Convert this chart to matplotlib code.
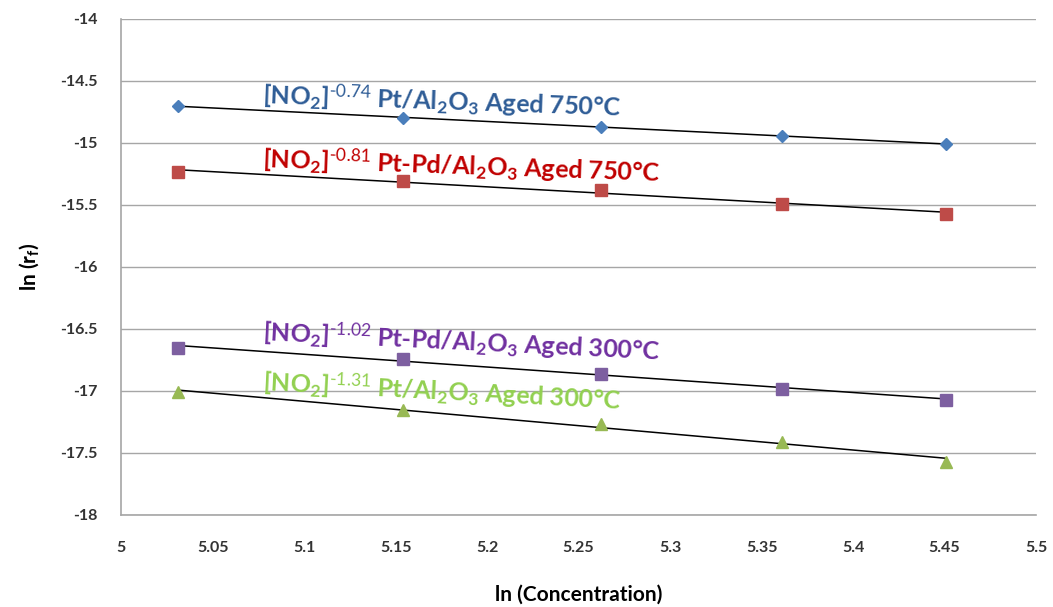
import matplotlib
matplotlib.use("Agg")
import matplotlib.pyplot as plt
import numpy as np

plt.rcParams['font.family'] = ['Lato', 'DejaVu Sans']
plt.rcParams['mathtext.fontset'] = 'custom'
plt.rcParams['mathtext.rm'] = 'Lato'
plt.rcParams['mathtext.it'] = 'Lato:italic'
plt.rcParams['mathtext.bf'] = 'Lato:bold'

# Data
ln_conc = [5.031, 5.154, 5.262, 5.361, 5.451]
pt_750 = [-14.70, -14.80, -14.87, -14.94, -15.01]
ptpd_750 = [-15.23, -15.31, -15.38, -15.49, -15.57]
ptpd_300 = [-16.65, -16.74, -16.86, -16.98, -17.07]
pt_300 = [-17.01, -17.15, -17.27, -17.41, -17.57]

exps = ['-0.74', '-0.81', '-1.02', '-1.31']
names = ['Pt/Al$_\\mathbf{2}$O$_\\mathbf{3}$ Aged 750°C', 'Pt-Pd/Al$_\\mathbf{2}$O$_\\mathbf{3}$ Aged 750°C',
         'Pt-Pd/Al$_\\mathbf{2}$O$_\\mathbf{3}$ Aged 300°C', 'Pt/Al$_\\mathbf{2}$O$_\\mathbf{3}$ Aged 300°C']

series = [
    (pt_750, '#4A7EBB', 'D', 6.5, '#2E5C96', (5.077, -14.685), -2.0),
    (ptpd_750, '#BE4B48', 's', 9, '#C00000', (5.077, -15.195), -2.0),
    (ptpd_300, '#7D5FA0', 's', 9, '#7030A0', (5.077, -16.595), -2.8),
    (pt_300, '#98B954', '^', 8.5, '#92D050', (5.077, -16.995), -3.0),
]

fig = plt.figure(figsize=(10.53, 6.07), dpi=100)
ax = fig.add_axes([0.115, 0.1516, 0.869, 0.8171])

x = np.array(ln_conc)
for (ys, col, mk, ms, tcol, pos, rot), ex, nm in zip(series, exps, names):
    ys = np.array(ys)
    m, b = np.polyfit(x, ys, 1)
    ax.plot(x, m * x + b, color='black', lw=1.1, zorder=3)
    ax.plot(x, ys, ls='none', marker=mk, color=col, markersize=ms, zorder=4)
    label = '[NO$_\\mathbf{2}$]$^{\\mathbf{\\text{' + ex + '}}}$ ' + nm
    ax.text(pos[0], pos[1], label, color=tcol, fontsize=18, fontweight='bold',
            rotation=rot, rotation_mode='anchor', ha='left', va='baseline', zorder=5)

ax.set_xlim(5, 5.5)
ax.set_ylim(-18, -14)
ax.set_xticks(np.arange(5, 5.501, 0.05))
ax.set_xticklabels(['5', '5.05', '5.1', '5.15', '5.2', '5.25', '5.3', '5.35', '5.4', '5.45', '5.5'])
ax.set_yticks(np.arange(-18, -13.99, 0.5))
ax.set_yticklabels(['-18', '-17.5', '-17', '-16.5', '-16', '-15.5', '-15', '-14.5', '-14'])
ax.yaxis.grid(True, color='#A6A6A6', lw=1.0)
ax.set_axisbelow(True)
for s in ['top', 'right']:
    ax.spines[s].set_visible(False)
for s in ['left', 'bottom']:
    ax.spines[s].set_color('#A6A6A6')
    ax.spines[s].set_linewidth(1.2)
ax.tick_params(axis='both', length=0, labelsize=11.5, labelcolor='#333333')
ax.tick_params(axis='y', pad=17)
ax.tick_params(axis='x', pad=19)
for lab in ax.get_xticklabels() + ax.get_yticklabels():
    lab.set_fontweight('bold')

ax.set_xlabel('ln (Concentration)', fontsize=15, fontweight='bold', labelpad=21)
ax.set_ylabel(r'ln (r$_\mathbf{f}$)', fontsize=15, fontweight='bold', labelpad=14)

fig.savefig('out.png', dpi=100)
